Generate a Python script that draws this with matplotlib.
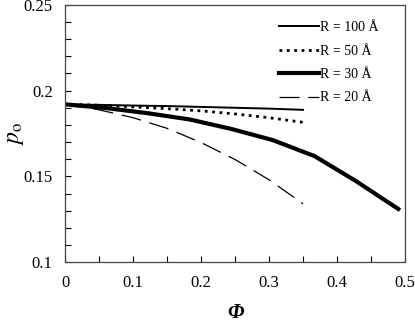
import matplotlib
matplotlib.use("Agg")
import matplotlib.pyplot as plt
from matplotlib.ticker import MultipleLocator

plt.rcParams['font.family'] = ['Liberation Serif', 'DejaVu Serif']
plt.rcParams['mathtext.fontset'] = 'stix'

# donnees
phi_a = [0, 0.05, 0.1, 0.15, 0.2, 0.25, 0.3, 0.35]
p_100 = [0.192, 0.1917, 0.1913, 0.191, 0.1905, 0.19, 0.1895, 0.1888]
p_50 = [0.192, 0.1915, 0.1905, 0.1895, 0.1882, 0.1864, 0.1842, 0.1815]
p_20 = [0.192, 0.1888, 0.1842, 0.178, 0.1697, 0.1598, 0.148, 0.134]
phi_b = [0, 0.061, 0.122, 0.183, 0.244, 0.305, 0.367, 0.428, 0.49]
p_30 = [0.192, 0.1898, 0.1868, 0.1832, 0.1777, 0.1712, 0.1618, 0.1472, 0.131]
xticks = [0, 0.1, 0.2, 0.3, 0.4, 0.5]
xlabels = ['0', '0.1', '0.2', '0.3', '0.4', '0.5']
yticks = [0.1, 0.15, 0.2, 0.25]
ylabels = ['0.1', '0.15', '0.2', '0.25']

fig = plt.figure(figsize=(4.15, 3.26), dpi=100)
ax = fig.add_axes([0.157, 0.196, 0.819, 0.789])

ax.plot(phi_a, p_100, 'k-', lw=1.4, label="R = 100 Å")
ax.plot(phi_a, p_50, 'k:', lw=2.0, label="R = 50 Å")
ax.plot(phi_b, p_30, 'k-', lw=3.0, label="R = 30 Å")
ax.plot(phi_a, p_20, 'k-', lw=0.9, dashes=(16, 7), label="R = 20 Å")

ax.set_xticks(xticks, xlabels)
ax.set_yticks(yticks, ylabels)
ax.xaxis.set_minor_locator(MultipleLocator(0.05))
ax.yaxis.set_minor_locator(MultipleLocator(0.01))
ax.set_xlim(0, 0.5)
ax.set_ylim(0.1, 0.25)
ax.tick_params(which='both', direction='in', length=4, width=0.8,
               top=False, right=False, labelsize=12, pad=9)
for s in ax.spines.values():
    s.set_color('#444444')
    s.set_linewidth(0.9)

ax.set_xlabel('Φ', fontsize=15, fontstyle='italic', fontweight='bold')
ax.xaxis.set_label_coords(0.5, -0.16)
ax.set_ylabel(r'$p_{\mathrm{o}}$', fontsize=17)
ax.yaxis.set_label_coords(-0.115, 0.5)

ax.legend(loc='upper right', frameon=False, fontsize=10, handlelength=2.9,
          handletextpad=0.1, labelspacing=0.75, bbox_to_anchor=(0.96, 0.985))

fig.savefig('out.png', dpi=100)
